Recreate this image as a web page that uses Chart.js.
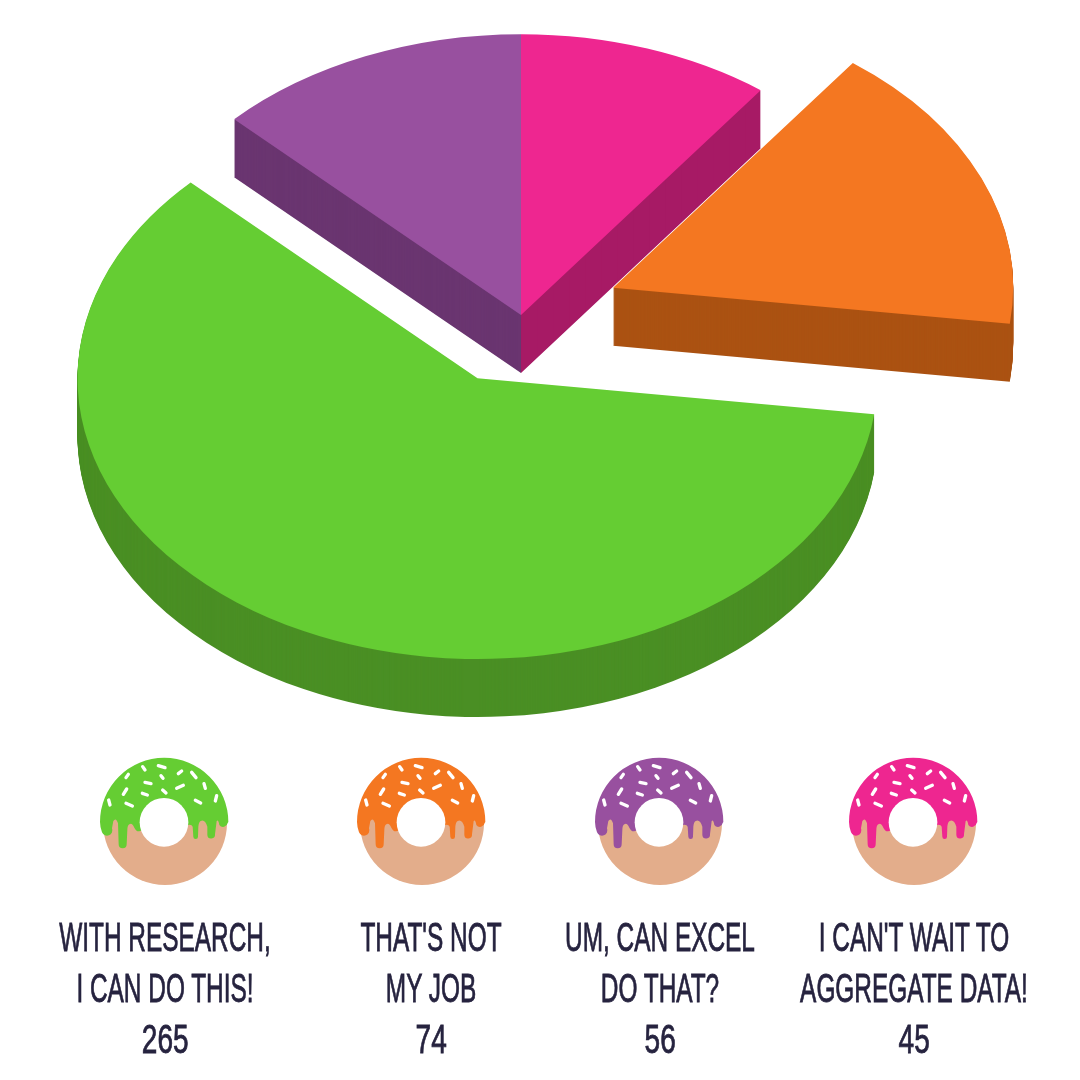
<!DOCTYPE html>
<html>
<head>
<meta charset="utf-8">
<script src="https://cdn.jsdelivr.net/npm/chart.js@4"></script>
<style>
  html, body { margin: 0; padding: 0; background: #fff; }
  #pagina { position: relative; width: 1080px; height: 1080px; overflow: hidden; }
  #grafico { position: absolute; left: 0; top: 0; }
  .rosquinha { position: absolute; width: 150px; height: 150px; top: 745px; }
  .rotulo {
    position: absolute; top: 912px; width: 500px; text-align: center;
    font-family: "Liberation Sans Narrow", "Liberation Sans", sans-serif;
    font-size: 40px; line-height: 51px; color: #26233f;
    -webkit-text-stroke: 0.8px #26233f;
    transform: scaleX(0.61);
  }
  .rotulo span { display: inline-block; transform: scaleX(1.15); }
</style>
</head>
<body>
<div id="pagina">
  <canvas id="grafico" width="1080" height="1080"></canvas>
</div>
<script>
// dados do grafico, na ordem horaria a partir do topo
const categorias = ["I can't wait to aggregate data!", "That's not my job", "With research, I can do this!", "Um, can Excel do that?"];
const valores = [45, 74, 265, 56];
const coresTopo = ["#ee2690", "#f47721", "#65cd33", "#98509f"];
const coresLado = ["#a71a65", "#ab5212", "#4a8f24", "#6a3570"];

// legenda, da esquerda para a direita
const linhasLegenda = [
  ["WITH RESEARCH,", "I CAN DO THIS!"],
  ["THAT'S NOT", "MY JOB"],
  ["UM, CAN EXCEL", "DO THAT?"],
  ["I CAN'T WAIT TO", "AGGREGATE DATA!"]
];
const valoresLegenda = [265, 74, 56, 45];
const coresLegenda = ["#65cd33", "#f47721", "#98509f", "#ee2690"];

// layout
const xRosquinha = [165, 422, 660, 914];
const xRotulo = [165, 431, 660, 914];
const explosao = [0, 100, 100, 0];
const achatamento = 0.702;
const profundidade = 58;
const centroY = 315;
const ordemDesenho = [0, 3, 1, 2];

const pluginPizza3d = {
  id: "pizza3d",
  beforeDatasetsDraw(chart) {
    const ctx = chart.ctx;
    const arcos = chart.getDatasetMeta(0).data;
    const cy = (chart.chartArea.top + chart.chartArea.bottom) / 2;

    const desenhaFatia = (i, deslocY, cor) => {
      const arco = arcos[i];
      const meio = (arco.startAngle + arco.endAngle) / 2;
      const opcoesOriginais = arco.options;
      arco.options = { ...opcoesOriginais, backgroundColor: cor, borderColor: cor };
      ctx.save();
      ctx.translate(0, centroY + deslocY - cy * achatamento);
      ctx.scale(1, achatamento);
      ctx.translate(Math.cos(meio) * explosao[i], Math.sin(meio) * explosao[i]);
      arco.draw(ctx);
      ctx.restore();
      arco.options = opcoesOriginais;
    };

    ordemDesenho.forEach((i) => {
      for (let d = profundidade; d > 0; d--) desenhaFatia(i, d, coresLado[i]);
      desenhaFatia(i, 0, coresTopo[i]);
    });
    return false; // o desenho normal achatado nao serve aqui
  }
};

new Chart(document.getElementById("grafico").getContext("2d"), {
  type: "pie",
  data: {
    labels: categorias,
    datasets: [{
      data: valores,
      backgroundColor: coresTopo,
      borderWidth: 0
    }]
  },
  options: {
    responsive: false,
    animation: false,
    radius: 400,
    layout: { padding: { right: 38 } },
    plugins: { legend: { display: false }, tooltip: { enabled: false } }
  },
  plugins: [pluginPizza3d]
});

// coordenadas no recorte 450x450 da rosquinha
const CAMINHO_COBERTURA = "M30 231 A192.5 192.5 0 0 1 415 231 L413 234 A14 14 0 0 1 388 240 Q385 222 380 228 L375 268 A11 11 0 0 1 352 270 L352 245 Q345 222 332 228 Q326 232 325 245 L324 275 A7 7 0 0 1 310 275 L308 245 Q305 238 295 240 L222 232 L150 258 Q140 262 133 248 Q126 232 118 238 Q112 242 112 255 L110 298 A12 12 0 0 1 86 298 L84 235 Q78 216 70 228 L66 250 A16 16 0 0 1 36 262 Q30 245 30 231 Z";
const GRANULADOS = [
  [158, 65, 165, 75], [205, 62, 225, 68], [108, 98, 115, 88], [265, 86, 275, 78],
  [305, 82, 318, 98], [213, 92, 219, 100], [165, 112, 183, 116], [342, 116, 346, 130],
  [100, 148, 110, 132], [260, 130, 280, 121], [218, 135, 228, 144], [157, 145, 172, 150],
  [380, 152, 376, 168], [56, 165, 60, 180], [108, 175, 127, 183], [316, 166, 332, 174]
];

const pagina = document.getElementById("pagina");

function criaRosquinha(cor, x) {
  const granulados = GRANULADOS.map((g) =>
    `<line x1="${g[0]}" y1="${g[1]}" x2="${g[2]}" y2="${g[3]}"/>`).join("");
  pagina.insertAdjacentHTML("beforeend", `
    <svg class="rosquinha" style="left:${x - 75}px" viewBox="0 0 450 450">
      <circle cx="225" cy="234" r="186" fill="#e3ad8b"/>
      <path d="${CAMINHO_COBERTURA}" fill="${cor}"/>
      <circle cx="222" cy="232" r="73" fill="#fff"/>
      <g stroke="#fff" stroke-width="10" stroke-linecap="round">${granulados}</g>
    </svg>`);
}

linhasLegenda.forEach((linhas, i) => {
  criaRosquinha(coresLegenda[i], xRosquinha[i]);
  pagina.insertAdjacentHTML("beforeend",
    `<div class="rotulo" style="left:${xRotulo[i] - 250}px">${linhas.join("<br>")}<br><span>${valoresLegenda[i]}</span></div>`);
});
</script>
</body>
</html>
